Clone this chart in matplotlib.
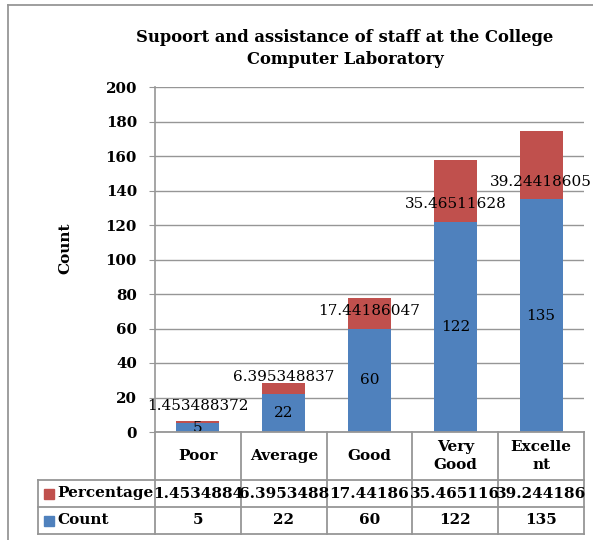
import matplotlib
matplotlib.use("Agg")
import matplotlib.pyplot as plt
from matplotlib.lines import Line2D
from matplotlib.patches import Rectangle

plt.rcParams['font.family'] = ['DejaVu Serif']

# data
categories = ["Poor", "Average", "Good", "Very\nGood", "Excelle\nnt"]
count = [5, 22, 60, 122, 135]
percentage = [1.453488372, 6.395348837, 17.44186047, 35.46511628, 39.24418605]
pct_labels = ["1.453488372", "6.395348837", "17.44186047", "35.46511628", "39.24418605"]
pct_table = ["1.4534884", "6.3953488", "17.44186", "35.465116", "39.244186"]
count_table = ["5", "22", "60", "122", "135"]
yticks = [0, 20, 40, 60, 80, 100, 120, 140, 160, 180, 200]

BLUE = "#4F81BD"
RED = "#C0504D"
GRID = "#969696"

W, H = 593, 540
fig = plt.figure(figsize=(W / 100, H / 100), dpi=100)


def fx(px):
    return px / W


def fy(py):
    return (H - py) / H


# plot area in pixels
left, right, top, bottom = 155, 584, 87, 432
ax = fig.add_axes([fx(left), fy(bottom), fx(right) - fx(left), fy(top) - fy(bottom)])

x = list(range(len(categories)))
ax.bar(x, count, width=0.5, color=BLUE, zorder=3)
ax.bar(x, percentage, width=0.5, bottom=count, color=RED, zorder=3)

ax.set_xlim(-0.5, len(categories) - 0.5)
ax.set_ylim(0, 200)
ax.set_yticks(yticks)
ax.set_yticklabels([str(t) for t in yticks], fontsize=10.8, fontweight="bold")
ax.set_xticks([])
ax.yaxis.grid(True, color=GRID, linewidth=1.0, zorder=0)
for s in ["top", "right", "bottom"]:
    ax.spines[s].set_visible(False)
ax.spines["left"].set_color(GRID)
ax.spines["left"].set_linewidth(1.2)
ax.tick_params(axis="y", length=4, color=GRID, pad=9)

# data labels (percentage labels were moved by hand in the original)
pct_label_y = [15, 32, 70, 132, 145]
for i in x:
    ax.text(i, count[i] / 2, str(count[i]), ha="center", va="center", fontsize=11, zorder=4)
    ax.text(i, pct_label_y[i], pct_labels[i], ha="center", va="center", fontsize=11, zorder=4)

fig.text(fx(65), fy(248), "Count", rotation=90, ha="center", va="center",
         fontsize=11, fontweight="bold")

fig.text(fx(345), fy(37), "Supoort and assistance of staff at the College",
         ha="center", va="center", fontsize=11.8, fontweight="bold")
fig.text(fx(345), fy(60), "Computer Laboratory",
         ha="center", va="center", fontsize=11.8, fontweight="bold")

# data table under the plot
col_w = (right - left) / len(categories)
row_tops = [432, 480, 507, 534]
leg_left = 38


def hline(x0, x1, y):
    fig.add_artist(Line2D([fx(x0), fx(x1)], [fy(y), fy(y)], color=GRID, linewidth=1.3))


def vline(xp, y0, y1):
    fig.add_artist(Line2D([fx(xp), fx(xp)], [fy(y0), fy(y1)], color=GRID, linewidth=1.3))


hline(left, right, row_tops[0])
for yy in row_tops[1:]:
    hline(leg_left, right, yy)
vline(leg_left, row_tops[1], row_tops[3])
for i in range(len(categories) + 1):
    vline(left + i * col_w, row_tops[0], row_tops[3])

for i, name in enumerate(categories):
    cx = left + (i + 0.5) * col_w
    fig.text(fx(cx), fy((row_tops[0] + row_tops[1]) / 2), name, ha="center", va="center",
             fontsize=11, fontweight="bold", linespacing=1.35)
    fig.text(fx(cx), fy((row_tops[1] + row_tops[2]) / 2), pct_table[i], ha="center", va="center",
             fontsize=11, fontweight="bold")
    fig.text(fx(cx), fy((row_tops[2] + row_tops[3]) / 2), count_table[i], ha="center", va="center",
             fontsize=11, fontweight="bold")

for r, (lab, col) in enumerate([("Percentage", RED), ("Count", BLUE)]):
    yc = (row_tops[r + 1] + row_tops[r + 2]) / 2
    fig.add_artist(Rectangle((fx(44), fy(yc + 5)), fx(10), fy(0) - fy(10), color=col))
    fig.text(fx(57), fy(yc), lab, ha="left", va="center", fontsize=11, fontweight="bold")

# outer frame of the chart
fig.add_artist(Line2D([fx(8), fx(8)], [fy(5), fy(H)], color=GRID, linewidth=1.3))
fig.add_artist(Line2D([fx(8), fx(W)], [fy(5), fy(5)], color=GRID, linewidth=1.3))

fig.savefig("out.png", dpi=100)
